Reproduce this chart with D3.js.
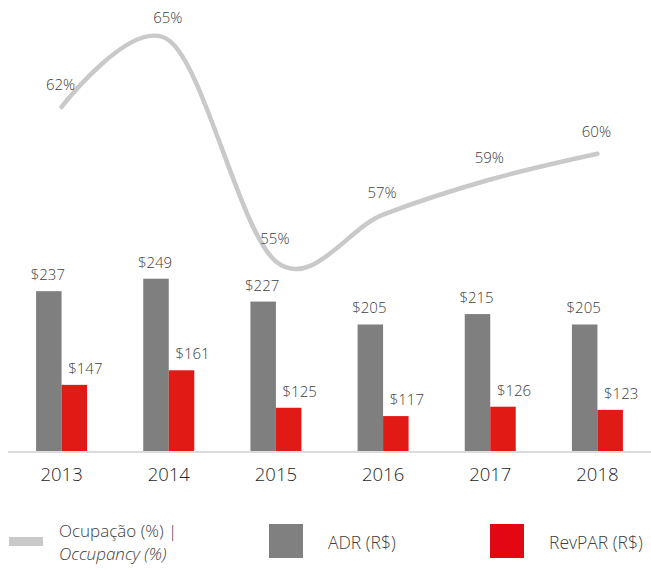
<!DOCTYPE html>
<html>
<head>
<meta charset="utf-8">
<script src="https://cdn.jsdelivr.net/npm/d3@7"></script>
<style>
  html, body { margin: 0; padding: 0; background: #fff; }
  svg { display: block; font-family: "Open Sans", "Noto Sans", sans-serif; font-weight: 300; }
</style>
</head>
<body>
<div id="chart"></div>
<script>
// Data
const years = ['2013', '2014', '2015', '2016', '2017', '2018'];
const adr = [237, 249, 227, 205, 215, 205];
const revpar = [147, 161, 125, 117, 126, 123];
const occupancy = [62.0, 64.85, 55.4, 57.4, 58.9, 60.0];

const width = 651;
const height = 570;
const baseline = 452;

const svg = d3.select('#chart')
  .append('svg')
  .attr('width', width)
  .attr('height', height);

// Scales
const x0 = d3.scaleBand()
  .domain(years)
  .range([8, 651]);

const x1 = d3.scaleBand()
  .domain(['adr', 'revpar'])
  .range([-25.5, 25.5]);

// bar axis doesn't start at zero in the source chart
const yBar = d3.scaleLinear()
  .domain([82.5, 516.7])
  .range([baseline, 0]);

const yLine = d3.scaleLinear()
  .domain([47.26, 66.57])
  .range([baseline, 0]);

const center = d => x0(d) + x0.bandwidth() / 2;

const series = [
  { key: 'adr', values: adr, color: '#7f7f7f', labelDx: -1 },
  { key: 'revpar', values: revpar, color: '#e21a16', labelDx: 11 }
];

const textColor = '#404040';

// Bars
series.forEach(s => {
  const g = svg.append('g').attr('class', `bars-${s.key}`);

  g.selectAll('rect')
    .data(years)
    .join('rect')
    .attr('x', (d) => center(d) + x1(s.key))
    .attr('y', (d, i) => yBar(s.values[i]))
    .attr('width', x1.bandwidth())
    .attr('height', (d, i) => baseline - yBar(s.values[i]))
    .attr('fill', s.color);

  g.selectAll('text')
    .data(years)
    .join('text')
    .attr('x', (d) => center(d) + x1(s.key) + x1.bandwidth() / 2 + s.labelDx)
    .attr('y', (d, i) => yBar(s.values[i]) - 11)
    .attr('text-anchor', 'middle')
    .attr('font-size', '15px')
    .attr('fill', textColor)
    .text((d, i) => '$' + s.values[i]);
});

// Baseline axis
const xAxis = svg.append('g')
  .attr('transform', `translate(0, ${baseline})`)
  .call(d3.axisBottom(x0).tickSize(0).tickPadding(16));

xAxis.select('.domain')
  .attr('stroke', '#dcdcdc')
  .attr('stroke-width', 2)
  .attr('d', 'M8,0H651');

xAxis.selectAll('text')
  .attr('font-family', '"Open Sans", sans-serif')
  .attr('font-weight', 300)
  .attr('font-size', '18.5px')
  .attr('fill', '#262626');

// Occupancy line
const line = d3.line()
  .x((d, i) => center(years[i]))
  .y(d => yLine(d))
  .curve(d3.curveCardinal.tension(0));

svg.append('path')
  .datum(occupancy)
  .attr('fill', 'none')
  .attr('stroke', '#c9c9c9')
  .attr('stroke-width', 4.5)
  .attr('stroke-linecap', 'round')
  .attr('d', line);

svg.append('g')
  .selectAll('text')
  .data(occupancy)
  .join('text')
  .attr('x', (d, i) => center(years[i]) - 1)
  .attr('y', d => yLine(d) - 17)
  .attr('text-anchor', 'middle')
  .attr('font-size', '15px')
  .attr('fill', textColor)
  .text(d => Math.round(d) + '%');

// Legend
const legend = svg.append('g').attr('class', 'legend');

legend.append('rect')
  .attr('x', 9).attr('y', 537)
  .attr('width', 34).attr('height', 9)
  .attr('fill', '#c9c9c9');

legend.append('text')
  .attr('x', 59).attr('y', 537)
  .attr('font-size', '17px')
  .attr('fill', textColor)
  .text('Ocupação (%) |');

legend.append('text')
  .attr('x', 59).attr('y', 560)
  .attr('font-size', '17px')
  .attr('font-style', 'italic')
  .attr('fill', textColor)
  .text('Occupancy (%)');

legend.append('rect')
  .attr('x', 269).attr('y', 524)
  .attr('width', 34).attr('height', 34)
  .attr('fill', '#808080');

legend.append('text')
  .attr('x', 328).attr('y', 549)
  .attr('font-size', '17.5px')
  .attr('fill', textColor)
  .text('ADR (R$)');

legend.append('rect')
  .attr('x', 490).attr('y', 524)
  .attr('width', 34).attr('height', 34)
  .attr('fill', '#e30613');

legend.append('text')
  .attr('x', 549).attr('y', 549)
  .attr('font-size', '17.5px')
  .attr('fill', textColor)
  .text('RevPAR (R$)');
</script>
</body>
</html>
